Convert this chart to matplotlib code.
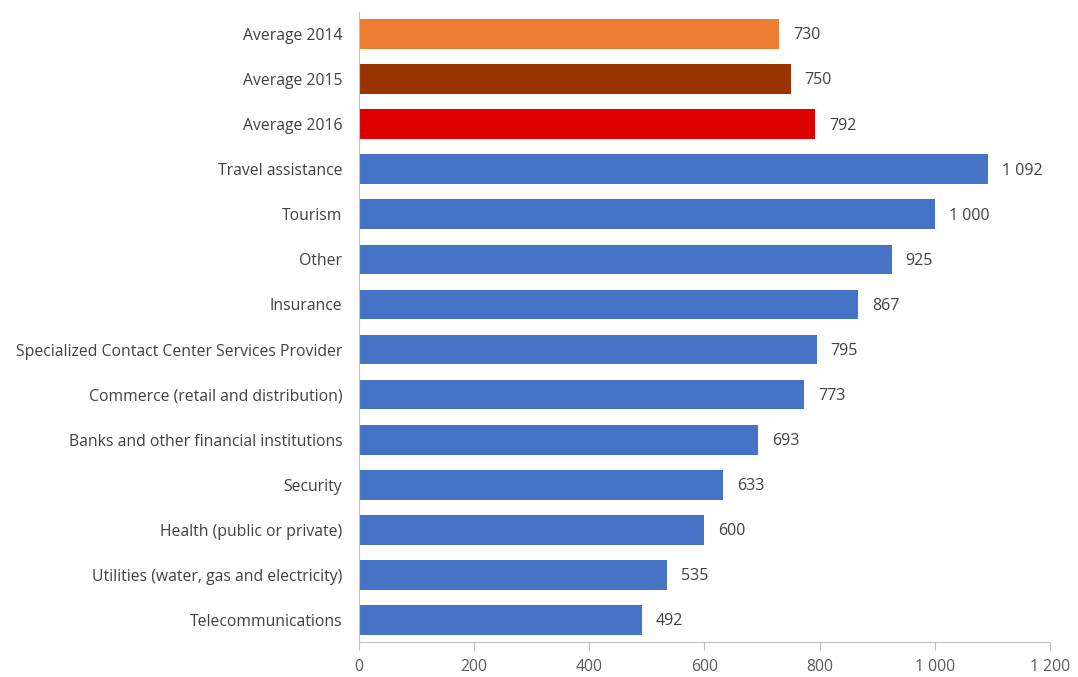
import matplotlib.pyplot as plt
import numpy as np

categories = [
    'Average 2014', 'Average 2015', 'Average 2016', 'Travel assistance', 'Tourism',
    'Other', 'Insurance', 'Specialized Contact Center Services Provider',
    'Commerce (retail and distribution)', 'Banks and other financial institutions',
    'Security', 'Health (public or private)', 'Utilities (water, gas and electricity)',
    'Telecommunications',
]
values = [730, 750, 792, 1092, 1000, 925, 867, 795, 773, 693, 633, 600, 535, 492]
colors = ['#ED7D31', '#993300', '#DC0000'] + ['#4472C4'] * 11
xticks = [0, 200, 400, 600, 800, 1000, 1200]


def fmt(v):
    return f'{v:,}'.replace(',', ' ')


plt.rcParams['font.family'] = ['Open Sans', 'DejaVu Sans']

fig = plt.figure(figsize=(10.78, 6.77), dpi=100)
ax = fig.add_axes([0.333, 0.051, 0.641, 0.932])

y = np.arange(len(categories))
ax.barh(y, values, height=0.66, color=colors)
for yi, v in zip(y, values):
    ax.text(v + 24, yi + 0.03, fmt(v), va='center', ha='left', fontsize=11.5, color='#404040')

ax.set_ylim(len(categories) - 0.5, -0.5)
ax.set_xlim(0, 1200)
ax.set_yticks(y)
ax.set_yticklabels(categories, fontsize=11.3, color='#404040')
ax.set_xticks(xticks)
ax.set_xticklabels([fmt(t) for t in xticks], fontsize=11.3, color='#595959')
ax.tick_params(axis='y', length=0, pad=12)
ax.tick_params(axis='x', length=6, color='#bfbfbf', pad=6)

for s in ['top', 'right']:
    ax.spines[s].set_visible(False)
ax.spines['left'].set_color('#bfbfbf')
ax.spines['bottom'].set_color('#bfbfbf')

fig.savefig('out.png', dpi=100)
